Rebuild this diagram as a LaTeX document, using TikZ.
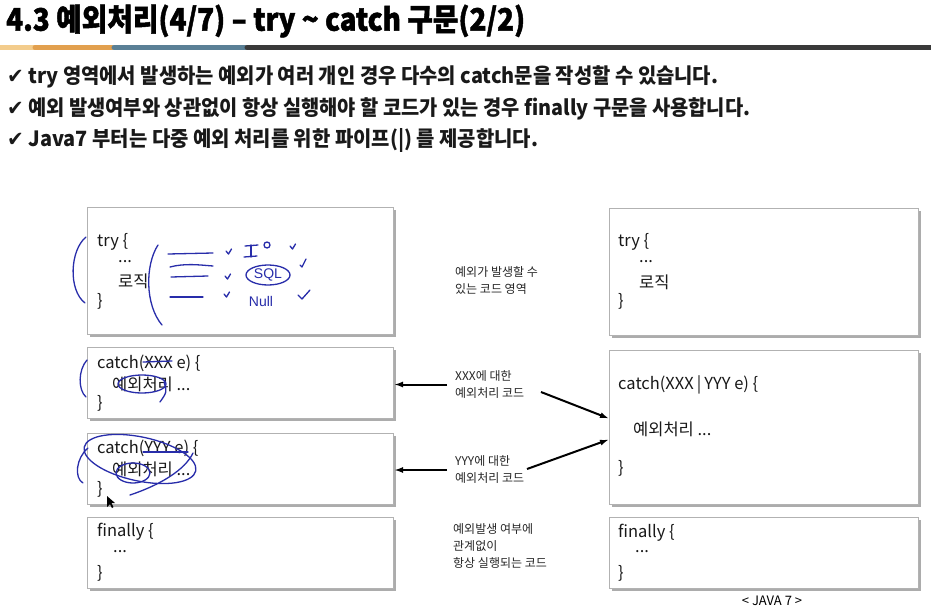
\documentclass[tikz,border=0pt]{standalone}
\usepackage{fontspec}
\usepackage{graphicx}
\setmainfont{Noto Sans CJK KR}
\newfontfamily\chk{DejaVu Sans}
\newfontfamily\handfont{Liberation Sans}
\usetikzlibrary{arrows.meta,shadows}
\definecolor{handblue}{RGB}{40,45,170}
\definecolor{barA}{RGB}{243,204,140}
\definecolor{barB}{RGB}{226,160,78}
\definecolor{barC}{RGB}{90,128,150}
\definecolor{barD}{RGB}{58,58,58}
\tikzset{
  box/.style={draw=gray!60, line width=1pt, fill=white, inner sep=0pt, anchor=north west,
    general shadow={shadow xshift=2.5pt, shadow yshift=-2.5pt, fill=gray!65}},
  code/.style={anchor=west, inner sep=0pt, font=\fontsize{16.5}{19}\selectfont, text=black!90},
  mid/.style={anchor=west, inner sep=0pt, align=left, font=\fontsize{12}{17}\selectfont, text=black!85},
  bul/.style={anchor=west, inner sep=0pt, font=\fontsize{21}{24}\selectfont\bfseries, text=black!90},
  arr/.style={-{Latex[length=9pt,width=6pt]}, line width=2pt, black},
  hd/.style={handblue, line width=1.3pt, line cap=round, line join=round},
  hdtext/.style={handblue, inner sep=0pt, font=\handfont\fontsize{14}{15}\selectfont}
}
\begin{document}
\begin{tikzpicture}[x=1pt,y=-1pt]
\useasboundingbox (0,0) rectangle (931,610);
\fill[white] (0,0) rectangle (931,610);

% title
\node[anchor=west, inner sep=0pt] (title) at (6,21)
  {\resizebox{519pt}{\height}{\fontsize{31}{33}\selectfont\bfseries\addfontfeatures{FakeBold=1.6}4.3 예외처리(4/7) – try \textasciitilde{} catch 구문(2/2)}};

% bar
\draw[barA, line width=5pt, line cap=round] (-3,47.5) -- (34,47.5);
\draw[barB, line width=5pt, line cap=round] (35,47.5) -- (112,47.5);
\draw[barC, line width=5pt, line cap=round] (114,47.5) -- (245,47.5);
\draw[barD, line width=5pt, line cap=round] (247,47.5) -- (940,47.5);

% bullets
\node[bul] (b1) at (7,77) {\resizebox{711pt}{\height}{{\chk\mdseries ✔} try 영역에서 발생하는 예외가 여러 개인 경우 다수의 catch문을 작성할 수 있습니다.}};
\node[bul] (b2) at (7,109) {\resizebox{743pt}{\height}{{\chk\mdseries ✔} 예외 발생여부와 상관없이 항상 실행해야 할 코드가 있는 경우 finally 구문을 사용합니다.}};
\node[bul] (b3) at (7,140) {\resizebox{531pt}{\height}{{\chk\mdseries ✔} Java7 부터는 다중 예외 처리를 위한 파이프(|) 를 제공합니다.}};

% left boxes
\node[box, minimum width=306pt, minimum height=127pt] (L1) at (87,207) {};
\node[box, minimum width=306pt, minimum height=71pt] (L2) at (87,347) {};
\node[box, minimum width=306pt, minimum height=71pt] (L3) at (87,433) {};
\node[box, minimum width=306pt, minimum height=71pt] (L4) at (87,517) {};

% right boxes
\node[box, minimum width=309pt, minimum height=127pt] (R1) at (609,208) {};
\node[box, minimum width=309pt, minimum height=154pt] (R2) at (609,350) {};
\node[box, minimum width=309pt, minimum height=71pt] (R3) at (609,517) {};

% left code
\node[code] (l1a) at (97,242) {try \{};
\node[code] (l1b) at (118,262) {...};
\node[code] (l1c) at (118,281) {로직};
\node[code] (l1d) at (97,301) {\}};

\node[code] (l2a) at (97,363) {catch(XXX e) \{};
\node[code] (l2b) at (112,384) {예외처리 ...};
\node[code] (l2c) at (97,403) {\}};

\node[code] (l3a) at (97,448) {catch(YYY e) \{};
\node[code] (l3b) at (112,469) {예외처리 ...};
\node[code] (l3c) at (97,489) {\}};

\node[code] (l4a) at (97,532) {finally \{};
\node[code] (l4b) at (113,552) {...};
\node[code] (l4c) at (97,573) {\}};

% right code
\node[code] (r1a) at (618,242) {try \{};
\node[code] (r1b) at (639,262) {...};
\node[code] (r1c) at (639,282) {로직};
\node[code] (r1d) at (618,301) {\}};

\node[code] (r2a) at (618,385) {catch(XXX\hspace{3pt}|\hspace{3pt}YYY e) \{};
\node[code] (r2b) at (633,429) {예외처리 ...};
\node[code] (r2c) at (618,468) {\}};

\node[code] (r3a) at (618,533) {finally \{};
\node[code] (r3b) at (635,552) {...};
\node[code] (r3c) at (618,573) {\}};

\node[anchor=center, inner sep=0pt, font=\fontsize{13}{15}\selectfont] (java) at (772,601) {< JAVA 7 >};

% middle labels
\node[mid] (m1) at (455,280.5) {예외가 발생할 수\\있는 코드 영역};
\node[mid] (m2) at (455,384.5) {XXX에 대한\\예외처리 코드};
\node[mid] (m3) at (455,470) {YYY에 대한\\예외처리 코드};
\node[mid] (m4) at (453,546.5) {예외발생 여부에\\관계없이\\항상 실행되는 코드};

% arrows
\coordinate (a2s) at (541,392);
\coordinate (a3s) at (527,469);
\coordinate (r2t) at ([yshift=9pt]R2.west);
\coordinate (r2b) at ([yshift=-12pt]R2.west);
\draw[arr] ([xshift=-8pt]m2.west) -- (m2.west -| L2.east);
\draw[arr] ([xshift=-8pt]m3.west) -- (m3.west -| L3.east);
\draw[arr] (a2s) -- (r2t);
\draw[arr] (a3s) -- (r2b);

% ---- handwritten annotations ----
% try box
\draw[hd] (86,237) .. controls (70,250) and (68,290) .. (85,303);
\draw[hd] (158,245) .. controls (145,265) and (145,305) .. (162,325);
\draw[hd] (168,254) -- (213,253);
\draw[hd] (170,267) .. controls (185,263) and (200,265) .. (213,266);
\draw[hd] (171,277) -- (208,276);
\draw[hd] (170,297) -- (203,297);
\draw[hd] (226,251) -- ++(2.5,3) -- ++(3,-5);
\draw[hd] (225,276) -- ++(2.5,3) -- ++(3,-5);
\draw[hd] (224,294) -- ++(2.5,3) -- ++(3,-5);
\draw[hd] (290,246) -- ++(2.5,3) -- ++(3,-5);
\draw[hd] (300,265) -- ++(2,2) -- ++(4,-8);
\draw[hd] (298,295) -- ++(4,4) -- ++(8,-9);
\draw[hd] (245,246) -- (258,245);
\draw[hd] (251,245) -- (251,257);
\draw[hd] (244,257) -- (257,256);
\draw[hd] (267,245) circle (3pt);
\node[hdtext] (sql) at (268,275) {SQL};
\draw[hd] (268,275) ellipse (22pt and 10pt);
\node[hdtext] (nul) at (261,301) {Null};

% catch XXX box
\draw[hd] (87,360) .. controls (78,370) and (78,390) .. (86,397);
\draw[hd] (143,362) -- (172,361);
\draw[hd] (142,384) ellipse (24pt and 9pt);
\draw[hd] (164,382) .. controls (167,392) .. (160,402);

% catch YYY box
\draw[hd] (88,448) .. controls (76,458) and (74,478) .. (83,483);
\draw[hd] (143,452) -- (188,452);
\draw[hd, rotate around={-12:(140,459)}] (140,459) ellipse (57pt and 22pt);
\draw[hd] (130,495) .. controls (160,485) and (185,470) .. (193,453);
\draw[hd] (133,473) ellipse (17pt and 10pt);

% cursor
\fill[black] (107,496) -- (107,507) -- (110,504) -- (112,508) -- (113.5,507) -- (111.5,503) -- (115,503) -- cycle;
\end{tikzpicture}
\end{document}
